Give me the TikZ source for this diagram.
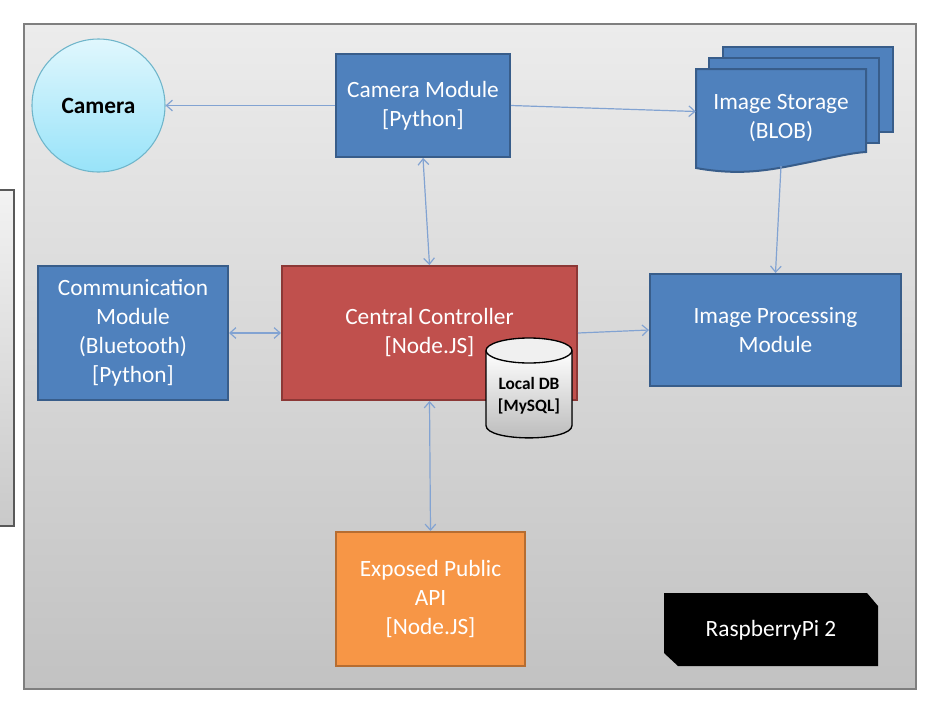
\documentclass[tikz,border=0pt]{standalone}
\usepackage{fontspec}
\setmainfont{Carlito}
\usetikzlibrary{arrows.meta}
\definecolor{blueF}{HTML}{4F81BD}
\definecolor{blueB}{HTML}{385D8A}
\definecolor{redF}{HTML}{C0504D}
\definecolor{redB}{HTML}{8C3836}
\definecolor{orF}{HTML}{F79646}
\definecolor{orB}{HTML}{B66D31}
\definecolor{arrowc}{RGB}{130,163,210}
\definecolor{frameB}{HTML}{7F7F7F}
\definecolor{frameT}{HTML}{ECECEC}
\definecolor{frameBo}{HTML}{C2C2C2}
\definecolor{camT}{HTML}{E0F7FD}
\definecolor{camBo}{HTML}{98E3F9}
\definecolor{camB}{HTML}{6FB5CA}
\begin{document}
\begin{tikzpicture}[x=0.75pt,y=-0.75pt,
  tip/.tip={Straight Barb[length=4.5pt,width=8pt]},
  conn/.style={draw=arrowc, line width=0.9pt, -tip},
  bconn/.style={draw=arrowc, line width=0.9pt, tip-tip},
  lbl/.style={text=white, align=center, font=\fontsize{17.5}{21.75}\selectfont},
  modbox/.style={lbl, rectangle, draw=blueB, fill=blueF, line width=1.5pt, inner sep=0pt},
  ctrlbox/.style={modbox, draw=redB, fill=redF},
  apibox/.style={modbox, draw=orB, fill=orF},
  storpage/.style={draw=blueB, fill=blueF, line width=1.5pt}]
\useasboundingbox (0,0) rectangle (939,704);

% background frames
\draw[line width=1pt, draw=gray!70!black, top color=gray!10, bottom color=gray!42] (-10,190) rectangle (14,526);
\draw[line width=1.5pt, draw=frameB, top color=frameT, bottom color=frameBo] (24,24) rectangle (916,689);

% camera
\node[circle, draw=camB, line width=0.8pt, top color=camT, bottom color=camBo, minimum size=0.75*133pt, inner sep=0pt, font=\fontsize{17.5}{21}\selectfont\bfseries] (cam) at (98.5,105.5) {Camera};

% modules
\node[modbox, minimum width=0.75*174pt, minimum height=0.75*103pt] (cm) at (423,105.5) {Camera Module\\{[}Python{]}};
\node[modbox, minimum width=0.75*190pt, minimum height=0.75*134pt] (comm) at (133,333) {Communication\\Module\\(Bluetooth)\\{[}Python{]}};
\node[ctrlbox, minimum width=0.75*295pt, minimum height=0.75*134pt] (cc) at (429.5,333) {};
\node[lbl] (cctext) at (429.5,332) {Central Controller\\{[}Node.JS{]}};
\node[modbox, minimum width=0.75*251pt, minimum height=0.75*112pt] (ip) at (775.5,330) {Image Processing\\Module};
\node[apibox, minimum width=0.75*189pt, minimum height=0.75*134pt] (api) at (430.5,599) {Exposed Public\\API\\{[}Node.JS{]}};

% image storage (multi document)
\draw[storpage] (723,47) rectangle (893,132);
\draw[storpage] (709,58) rectangle (879,143);
\draw[storpage] (696,69) -- (866,69) -- (866,152) .. controls (850,153) and (830,158) .. (800,164) .. controls (770,170) and (740,176) .. (696,168) -- cycle;
\node[lbl, minimum width=0.75*170pt, minimum height=0.75*99pt, inner sep=0pt] (stor) at (781,118.5) {Image Storage\\(BLOB)};
\coordinate (storbot) at (781,166);

% local DB cylinder
\fill[top color=white, bottom color=gray!55] (486,350.5) -- (486,425.5) .. controls (486,442) and (572,442) .. (572,425.5) -- (572,350.5) -- cycle;
\draw[line width=1pt] (486,350.5) -- (486,425.5) .. controls (486,442) and (572,442) .. (572,425.5) -- (572,350.5);
\draw[line width=1pt, fill=gray!12] (529,350.5) ellipse [x radius=43, y radius=12.5];
\node[align=center, font=\fontsize{13}{16.5}\selectfont\bfseries] (db) at (529,396) {Local DB\\{[}MySQL{]}};

% RaspberryPi label
\fill[black] (664,593) -- (867,593) -- (878,606) -- (878,666) -- (678,666) -- (664,653) -- cycle;
\node[lbl] (rpi) at (771,630) {RaspberryPi 2};

% connectors
\draw[conn] (cm.west) -- (cam.east);
\draw[conn] (cm.east) -- ([yshift=5.25pt]stor.west);
\draw[bconn] (cm.south) -- (cc.north);
\draw[conn] (storbot) -- (ip.north);
\draw[bconn] (comm.east) -- (cc.west);
\draw[conn] (cc.east) -- (ip.west);
\draw[bconn] (cc.south) -- (api.north);
\end{tikzpicture}
\end{document}
